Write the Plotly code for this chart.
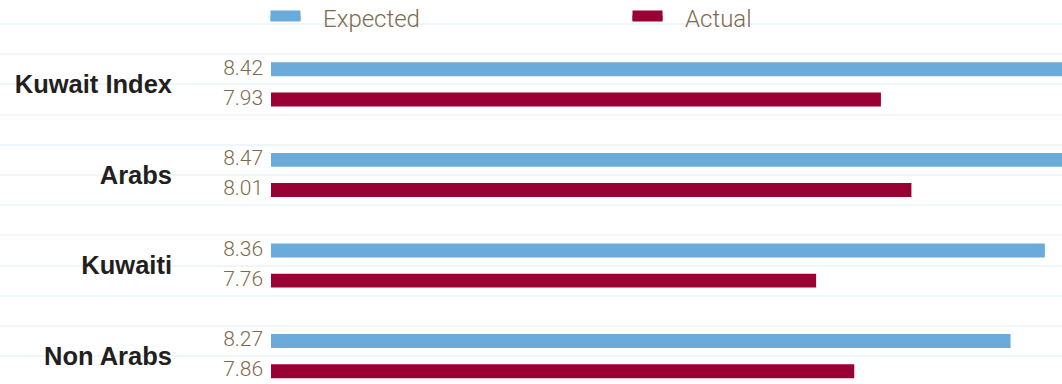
import plotly.graph_objects as go

# Survey scores by group
categories = ["Kuwait Index", "Arabs", "Kuwaiti", "Non Arabs"]
expected = [8.42, 8.47, 8.36, 8.27]
actual = [7.93, 8.01, 7.76, 7.86]
series_names = ["Expected", "Actual"]

BLUE = "#6AABDB"
RED = "#990033"
BROWN = "#7D6B4E"
GRID = "#EEF6FC"
LIGHT_FONT = "Roboto, Liberation Sans, Arial, sans-serif"

X_MIN, X_MAX = 6.33, 8.405
Y_RANGE = [3.308, -0.932]
pos = list(range(len(categories)))
PAD = "\u00a0" * 3  # gap between legend key and its label

fig = go.Figure()

# background grid subplot spanning the full width (drawn first)
fig.add_trace(go.Scatter(x=[None], y=[None], xaxis="x", yaxis="y",
                         showlegend=False, hoverinfo="skip"))

# bars
for name, vals, col in [(series_names[0], expected, BLUE),
                        (series_names[1], actual, RED)]:
    fig.add_trace(go.Bar(name=name, y=pos, x=vals, orientation="h",
                         xaxis="x2", yaxis="y2", showlegend=False,
                         marker=dict(color=col, line=dict(width=0))))

# legend keys: thick line plus fill gives a wide block swatch
for name, col in [(series_names[0], BLUE), (series_names[1], RED)]:
    fig.add_trace(go.Scatter(name=PAD + name, x=[None], y=[None], mode="lines",
                             xaxis="x2", yaxis="y2", fill="toself",
                             fillcolor=col, line=dict(color=col, width=10)))

# value labels to the left of each bar
label_y = [p - 1 / 6 for p in pos] + [p + 1 / 6 for p in pos]
label_txt = [f"{v:.2f}" for v in expected] + [f"{v:.2f}" for v in actual]
fig.add_trace(go.Scatter(
    x=[X_MIN] * len(label_y), y=label_y, mode="markers+text",
    xaxis="x2", yaxis="y2",
    text=label_txt, textposition="middle left",
    marker=dict(size=11, color="rgba(0,0,0,0)"),
    textfont=dict(family=LIGHT_FONT, size=21, color=BROWN, weight=300),
    cliponaxis=False, showlegend=False, hoverinfo="skip"))

fig.update_layout(
    width=1062, height=384,
    margin=dict(l=0, r=0, t=0, b=0, autoexpand=False),
    paper_bgcolor="white", plot_bgcolor="rgba(0,0,0,0)",
    barmode="group", bargap=1 / 3, bargroupgap=0.537,
    showlegend=True,
    legend=dict(orientation="h", x=0.25, xanchor="left", y=1.012, yanchor="top",
                bgcolor="rgba(0,0,0,0)", entrywidth=317, entrywidthmode="pixels",
                itemwidth=30,
                font=dict(family=LIGHT_FONT, size=24, color=BROWN, weight=300),
                traceorder="normal"),
    xaxis=dict(domain=[0, 1], range=[0, 1], visible=False, anchor="y"),
    yaxis=dict(domain=[0, 1], range=Y_RANGE, anchor="x", tickmode="linear",
               tick0=0, dtick=1 / 3, showticklabels=False, ticks="",
               showgrid=True, gridcolor=GRID, gridwidth=2, zeroline=False),
    xaxis2=dict(domain=[271 / 1062, 1], range=[X_MIN, X_MAX], visible=False,
                anchor="y2"),
    yaxis2=dict(domain=[0, 1], range=Y_RANGE, anchor="x2",
                tickvals=pos, ticktext=categories,
                ticks="", showgrid=False, zeroline=False, showline=False,
                ticklabelstandoff=98,
                tickfont=dict(family="Liberation Sans, Arial, sans-serif",
                              size=25.5, color="#231F20", weight="bold")),
)

fig.write_html("out.html")
